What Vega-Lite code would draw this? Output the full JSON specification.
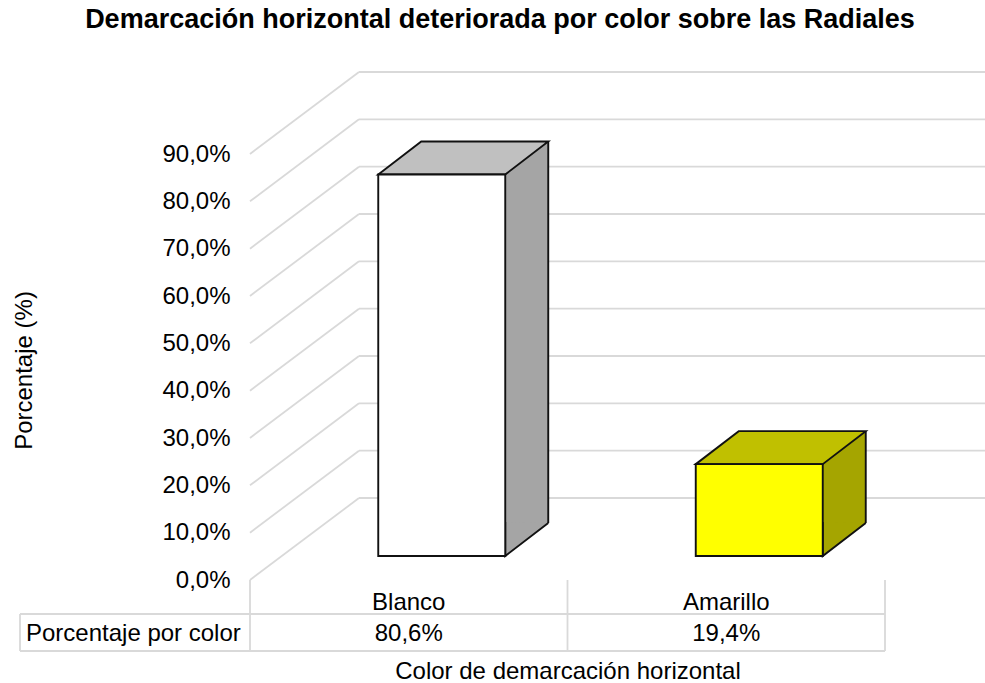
{
  "$schema": "https://vega.github.io/schema/vega-lite/v6.json",
  "width": 635,
  "height": 426,
  "autosize": {"type": "none"},
  "padding": {"left": 250, "top": 154, "right": 100, "bottom": 103},
  "background": "white",
  "title": {
    "text": "Demarcación horizontal deteriorada por color sobre las Radiales",
    "fontSize": 27,
    "fontWeight": "bold",
    "color": "#000000",
    "anchor": "middle",
    "frame": "group",
    "dx": -67.5,
    "baseline": "alphabetic",
    "offset": 16.5
  },
  "data": {
    "values": [
      {"color": "Blanco", "value": 80.6},
      {"color": "Amarillo", "value": 19.4}
    ]
  },
  "layer": [
    {
      "data": {"values": [{"v": 0}, {"v": 10}, {"v": 20}, {"v": 30}, {"v": 40}, {"v": 50}, {"v": 60}, {"v": 70}, {"v": 80}, {"v": 90}]},
      "mark": {"type": "rule", "color": "#D9D9D9", "strokeWidth": 1.8, "y2Offset": -82},
      "encoding": {
        "x": {"value": 0},
        "x2": {"value": 109},
        "y": {
          "field": "v",
          "type": "quantitative",
          "scale": {"domain": [0, 90], "nice": false},
          "axis": {
            "title": "Porcentaje (%)",
            "values": [0, 10, 20, 30, 40, 50, 60, 70, 80, 90],
            "labelExpr": "replace(format(datum.value, '.1f'), '.', ',') + '%'",
            "labelFontSize": 24,
            "labelColor": "#000000",
            "labelPadding": 20,
            "ticks": false,
            "domain": false,
            "grid": false,
            "titleFontSize": 24,
            "titleFontWeight": "normal",
            "titleColor": "#000000",
            "titleAngle": -90,
            "titleAlign": "center",
            "titleBaseline": "alphabetic",
            "titleX": -219,
            "titleY": 216
          }
        },
        "y2": {"field": "v"}
      }
    },
    {
      "data": {"values": [{"v": 0}, {"v": 10}, {"v": 20}, {"v": 30}, {"v": 40}, {"v": 50}, {"v": 60}, {"v": 70}, {"v": 80}, {"v": 90}]},
      "mark": {"type": "rule", "color": "#D9D9D9", "strokeWidth": 1.8, "yOffset": -82},
      "encoding": {
        "x": {"value": 109},
        "x2": {"value": 735},
        "y": {"field": "v", "type": "quantitative"}
      }
    },
    {
      "mark": {"type": "bar", "width": 43, "xOffset": 118, "yOffset": -57, "y2Offset": -57, "strokeWidth": 0},
      "encoding": {
        "x": {
          "field": "color",
          "type": "nominal",
          "scale": {"domain": ["Blanco", "Amarillo"], "paddingInner": 0, "paddingOuter": 0},
          "axis": {
            "title": "Color de demarcación horizontal",
            "labelAngle": 0,
            "labelFontSize": 24,
            "labelColor": "#000000",
            "labelBaseline": "alphabetic",
            "labelPadding": 29,
            "ticks": false,
            "domain": false,
            "grid": false,
            "titleFontSize": 24,
            "titleFontWeight": "normal",
            "titleColor": "#000000",
            "titleBaseline": "alphabetic",
            "titleX": 317.5,
            "titleY": 98
          }
        },
        "y": {"field": "value", "type": "quantitative"},
        "y2": {"value": "height"},
        "fill": {"condition": {"test": "datum.color === 'Blanco'", "value": "#A5A5A5"}, "value": "#A5A500"}
      }
    },
    {
      "mark": {"type": "rule", "color": "#111111", "strokeWidth": 1.9, "xOffset": 139.5, "yOffset": -57, "y2Offset": -57},
      "encoding": {
        "x": {"field": "color", "type": "nominal"},
        "y": {"field": "value", "type": "quantitative"},
        "y2": {"value": "height"}
      }
    },
    {
      "mark": {"type": "point", "shape": "M 96.5 -58 L 96.5 -24 L 139.5 -57", "size": 4, "filled": true, "opacity": 1, "stroke": "#111111", "strokeWidth": 1.9},
      "encoding": {
        "x": {"field": "color", "type": "nominal"},
        "y": {"value": "height"},
        "fill": {"condition": {"test": "datum.color === 'Blanco'", "value": "#A5A5A5"}, "value": "#A5A500"}
      }
    },
    {
      "mark": {"type": "point", "shape": "M -30.5 -24 L 96.5 -24 L 139.5 -57 L 12.5 -57 Z", "size": 4, "filled": true, "opacity": 1, "stroke": "#111111", "strokeWidth": 1.9},
      "encoding": {
        "x": {"field": "color", "type": "nominal"},
        "y": {"field": "value", "type": "quantitative"},
        "fill": {"condition": {"test": "datum.color === 'Blanco'", "value": "#C0C0C0"}, "value": "#C0C000"}
      }
    },
    {
      "mark": {"type": "bar", "width": 127, "xOffset": 33, "yOffset": -24, "y2Offset": -24, "stroke": "#111111", "strokeWidth": 1.9},
      "encoding": {
        "x": {"field": "color", "type": "nominal"},
        "y": {"field": "value", "type": "quantitative"},
        "y2": {"value": "height"},
        "fill": {"condition": {"test": "datum.color === 'Blanco'", "value": "#FFFFFF"}, "value": "#FFFF00"}
      }
    },
    {
      "mark": {"type": "rule", "color": "#D9D9D9", "strokeWidth": 1.8, "y2Offset": 71},
      "encoding": {
        "x": {"field": "color", "type": "nominal", "bandPosition": 0},
        "y": {"value": "height"},
        "y2": {"value": "height"}
      }
    },
    {
      "data": {"values": [{"label": "Porcentaje por color"}]},
      "layer": [
        {
          "mark": {"type": "rule", "color": "#D9D9D9", "strokeWidth": 1.8, "y2Offset": 71},
          "encoding": {
            "x": {"value": 635},
            "y": {"value": "height"},
            "y2": {"value": "height"}
          }
        },
        {
          "mark": {"type": "rule", "color": "#D9D9D9", "strokeWidth": 1.8, "yOffset": 34, "y2Offset": 71},
          "encoding": {
            "x": {"value": -230},
            "y": {"value": "height"},
            "y2": {"value": "height"}
          }
        },
        {
          "mark": {"type": "rule", "color": "#D9D9D9", "strokeWidth": 1.8, "yOffset": 34},
          "encoding": {
            "x": {"value": -230},
            "x2": {"value": 635},
            "y": {"value": "height"}
          }
        },
        {
          "mark": {"type": "rule", "color": "#D9D9D9", "strokeWidth": 1.8, "yOffset": 71},
          "encoding": {
            "x": {"value": -230},
            "x2": {"value": 635},
            "y": {"value": "height"}
          }
        },
        {
          "mark": {"type": "text", "align": "left", "baseline": "alphabetic", "fontSize": 24, "color": "#000000", "yOffset": 61},
          "encoding": {
            "x": {"value": -224},
            "y": {"value": "height"},
            "text": {"field": "label", "type": "nominal"}
          }
        }
      ]
    },
    {
      "mark": {"type": "text", "align": "center", "baseline": "alphabetic", "fontSize": 24, "color": "#000000", "yOffset": 61, "text": {"expr": "replace(format(datum.value, '.1f'), '.', ',') + '%'"}},
      "encoding": {
        "x": {"field": "color", "type": "nominal"},
        "y": {"value": "height"}
      }
    }
  ],
  "config": {
    "font": "Liberation Sans",
    "view": {"stroke": null}
  }
}
